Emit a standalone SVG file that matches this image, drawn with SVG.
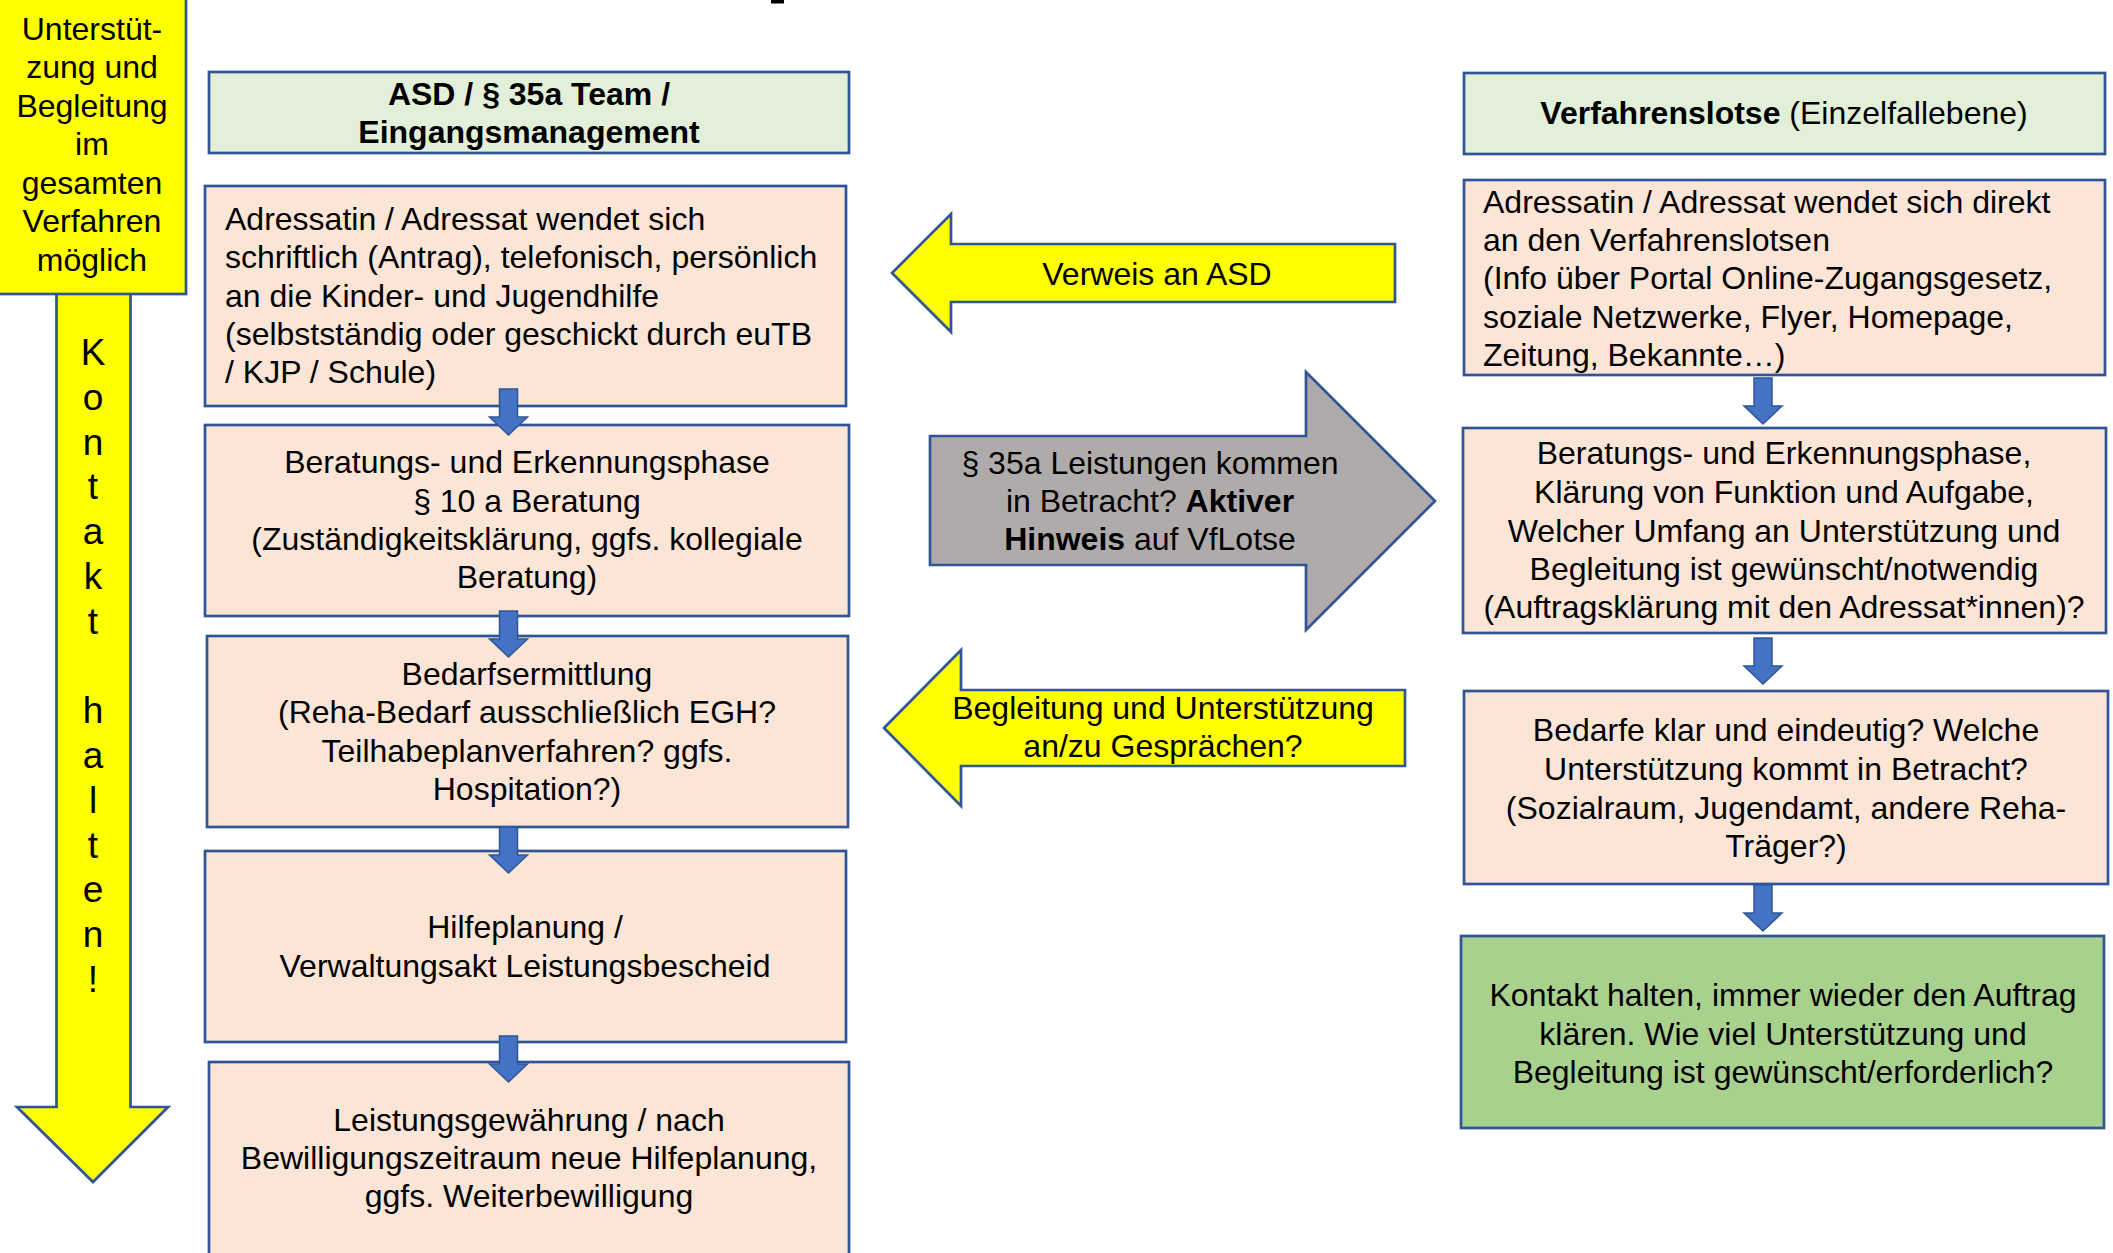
<svg xmlns="http://www.w3.org/2000/svg" xmlns:xlink="http://www.w3.org/1999/xlink" width="2113" height="1253" viewBox="0 0 2113 1253">
<style>
  .t { font-family: "Liberation Sans", Arial, sans-serif; font-size: 32px; fill: #000; }
  .c { text-anchor: middle; }
  .b { font-weight: bold; }
  .k { font-family: "Liberation Sans", Arial, sans-serif; font-size: 37px; fill: #000; text-anchor: middle; }
  .box { fill: #FBE5D6; stroke: #2F5597; stroke-width: 2.7; }
  .hdr { fill: #E2F0D9; stroke: #2F5597; stroke-width: 2.7; }
  .grn { fill: #A9D18E; stroke: #2F5597; stroke-width: 2.7; }
  .yel { fill: #FFFF00; stroke: #2F5597; stroke-width: 2.7; }
  .gry { fill: #AFABAB; stroke: #2F5597; stroke-width: 2.7; }
  .sa { fill: #4472C4; stroke: #2F5597; stroke-width: 1.5; }
</style>
<defs>
  <path id="down" class="sa" d="M-9,0 h18 v28 h10 l-19,18 l-19,-18 h10 z"/>
</defs>
<rect x="0" y="0" width="2113" height="1253" fill="#FFFFFF"/>
<rect x="771" y="0" width="13" height="3.5" fill="#000"/>

<g id="kontakt-arrow">
  <path class="yel" d="M56.5,290 L130.5,290 L130.5,1107 L168,1107 L93,1182 L17,1107 L56.5,1107 Z"/>
  <text class="k" x="93" y="365">K</text>
  <text class="k" x="93" y="410">o</text>
  <text class="k" x="93" y="455">n</text>
  <text class="k" x="93" y="499">t</text>
  <text class="k" x="93" y="544">a</text>
  <text class="k" x="93" y="589">k</text>
  <text class="k" x="93" y="634">t</text>
  <text class="k" x="93" y="723">h</text>
  <text class="k" x="93" y="768">a</text>
  <text class="k" x="93" y="813">l</text>
  <text class="k" x="93" y="858">t</text>
  <text class="k" x="93" y="902">e</text>
  <text class="k" x="93" y="947">n</text>
  <text class="k" x="93" y="992">!</text>
</g>

<g id="support-box">
  <rect class="yel" x="-3" y="-3" width="189" height="297"/>
  <text class="t c" x="92" y="40">Unterstüt-</text>
  <text class="t c" x="92" y="78">zung und</text>
  <text class="t c" x="92" y="117">Begleitung</text>
  <text class="t c" x="92" y="155">im</text>
  <text class="t c" x="92" y="194">gesamten</text>
  <text class="t c" x="92" y="232">Verfahren</text>
  <text class="t c" x="92" y="271">möglich</text>
</g>

<g id="asd-header">
  <rect class="hdr" x="209" y="72" width="640" height="81"/>
  <text class="t c b" x="529" y="105">ASD / § 35a Team /</text>
  <text class="t c b" x="529" y="143">Eingangsmanagement</text>
</g>

<g id="asd-1">
  <rect class="box" x="205" y="186" width="641" height="220"/>
  <text class="t" x="225" y="230">Adressatin / Adressat wendet sich</text>
  <text class="t" x="225" y="268">schriftlich (Antrag), telefonisch, persönlich</text>
  <text class="t" x="225" y="307">an die Kinder- und Jugendhilfe</text>
  <text class="t" x="225" y="345">(selbstständig oder geschickt durch euTB</text>
  <text class="t" x="225" y="383">/ KJP / Schule)</text>
</g>

<g id="asd-2">
  <rect class="box" x="205" y="425" width="644" height="191"/>
  <text class="t c" x="527" y="473">Beratungs- und Erkennungsphase</text>
  <text class="t c" x="527" y="512">§ 10 a Beratung</text>
  <text class="t c" x="527" y="550">(Zuständigkeitsklärung, ggfs. kollegiale</text>
  <text class="t c" x="527" y="588">Beratung)</text>
</g>

<g id="asd-3">
  <rect class="box" x="207" y="636" width="641" height="191"/>
  <text class="t c" x="527" y="685">Bedarfsermittlung</text>
  <text class="t c" x="527" y="723">(Reha-Bedarf ausschließlich EGH?</text>
  <text class="t c" x="527" y="762">Teilhabeplanverfahren? ggfs.</text>
  <text class="t c" x="527" y="800">Hospitation?)</text>
</g>

<g id="asd-4">
  <rect class="box" x="205" y="851" width="641" height="191"/>
  <text class="t c" x="525" y="938">Hilfeplanung /</text>
  <text class="t c" x="525" y="977">Verwaltungsakt Leistungsbescheid</text>
</g>

<g id="asd-5">
  <rect class="box" x="209" y="1062" width="640" height="250"/>
  <text class="t c" x="529" y="1131">Leistungsgewährung / nach</text>
  <text class="t c" x="529" y="1169">Bewilligungszeitraum neue Hilfeplanung,</text>
  <text class="t c" x="529" y="1207">ggfs. Weiterbewilligung</text>
</g>

<g id="verweis-arrow">
  <path class="yel" d="M892,273 L951,214 L951,244 L1395,244 L1395,302 L951,302 L951,332 Z"/>
  <text class="t c" x="1157" y="285">Verweis an ASD</text>
</g>

<g id="hinweis-arrow">
  <path class="gry" d="M930,436 L1306,436 L1306,372 L1435,501 L1306,630 L1306,565 L930,565 Z"/>
  <text class="t c" x="1150" y="474">§ 35a Leistungen kommen</text>
  <text class="t c" x="1150" y="512">in Betracht? <tspan class="b">Aktiver</tspan></text>
  <text class="t c" x="1150" y="550"><tspan class="b">Hinweis</tspan> auf VfLotse</text>
</g>

<g id="begleitung-arrow">
  <path class="yel" d="M884,728 L961,650 L961,690 L1405,690 L1405,766 L961,766 L961,806 Z"/>
  <text class="t c" x="1163" y="719">Begleitung und Unterstützung</text>
  <text class="t c" x="1163" y="757">an/zu Gesprächen?</text>
</g>

<g id="vfl-header">
  <rect class="hdr" x="1464" y="73" width="641" height="81"/>
  <text class="t c" x="1784" y="124"><tspan class="b">Verfahrenslotse</tspan> (Einzelfallebene)</text>
</g>

<g id="vfl-1">
  <rect class="box" x="1464" y="180" width="641" height="195"/>
  <text class="t" x="1483" y="213">Adressatin / Adressat wendet sich direkt</text>
  <text class="t" x="1483" y="251">an den Verfahrenslotsen</text>
  <text class="t" x="1483" y="289">(Info über Portal Online-Zugangsgesetz,</text>
  <text class="t" x="1483" y="328">soziale Netzwerke, Flyer, Homepage,</text>
  <text class="t" x="1483" y="366">Zeitung, Bekannte…)</text>
</g>

<g id="vfl-2">
  <rect class="box" x="1463" y="428" width="643" height="205"/>
  <text class="t c" x="1784" y="464">Beratungs- und Erkennungsphase,</text>
  <text class="t c" x="1784" y="503">Klärung von Funktion und Aufgabe,</text>
  <text class="t c" x="1784" y="542">Welcher Umfang an Unterstützung und</text>
  <text class="t c" x="1784" y="580">Begleitung ist gewünscht/notwendig</text>
  <text class="t c" x="1784" y="618">(Auftragsklärung mit den Adressat*innen)?</text>
</g>

<g id="vfl-3">
  <rect class="box" x="1464" y="691" width="644" height="193"/>
  <text class="t c" x="1786" y="741">Bedarfe klar und eindeutig? Welche</text>
  <text class="t c" x="1786" y="780">Unterstützung kommt in Betracht?</text>
  <text class="t c" x="1786" y="819">(Sozialraum, Jugendamt, andere Reha-</text>
  <text class="t c" x="1786" y="857">Träger?)</text>
</g>

<g id="vfl-4">
  <rect class="grn" x="1461" y="936" width="643" height="192"/>
  <text class="t c" x="1783" y="1006">Kontakt halten, immer wieder den Auftrag</text>
  <text class="t c" x="1783" y="1045">klären. Wie viel Unterstützung und</text>
  <text class="t c" x="1783" y="1083">Begleitung ist gewünscht/erforderlich?</text>
</g>

<g id="connectors">
  <use xlink:href="#down" href="#down" x="508.5" y="389"/>
  <use xlink:href="#down" href="#down" x="508.5" y="611"/>
  <use xlink:href="#down" href="#down" x="508.5" y="827"/>
  <use xlink:href="#down" href="#down" x="508.5" y="1036"/>
  <use xlink:href="#down" href="#down" x="1763" y="378"/>
  <use xlink:href="#down" href="#down" x="1763" y="638"/>
  <use xlink:href="#down" href="#down" x="1763" y="885"/>
</g>
</svg>
